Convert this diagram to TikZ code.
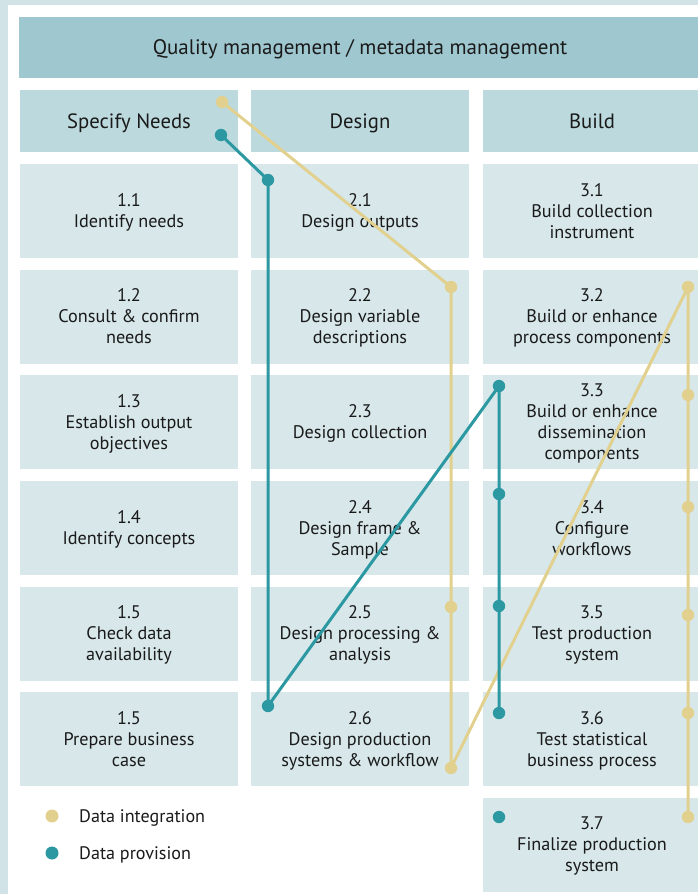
\documentclass[tikz,border=0pt]{standalone}
\usepackage{fontspec}
\setmainfont{PT Sans}
\definecolor{outerbg}{HTML}{D1E3E7}
\definecolor{headc}{HTML}{9FC7CF}
\definecolor{colhc}{HTML}{BCD9DD}
\definecolor{cellc}{HTML}{D7E7EA}
\definecolor{tealc}{HTML}{2B98A2}
\definecolor{yellc}{HTML}{E2D18E}
\definecolor{txt}{HTML}{1A1A1A}
\tikzset{
  cell/.style={fill=cellc, minimum width=218pt, minimum height=94pt, inner sep=0pt, align=center, text depth=0pt, text=txt, font=\fontsize{18.2}{21}\selectfont},
  colhead/.style={fill=colhc, minimum width=218pt, minimum height=62pt, inner sep=0pt, align=center, text depth=0pt, text=txt, font=\fontsize{20.7}{24}\selectfont},
  headbox/.style={fill=headc, minimum width=682pt, minimum height=61pt, inner sep=0pt, text depth=0pt, text=txt, font=\fontsize{21}{25}\selectfont},
  tline/.style={draw=tealc, line width=3pt, line join=round},
  yline/.style={draw=yellc, line width=3pt, line join=round},
  tdot/.style={fill=tealc},
  ydot/.style={fill=yellc},
  legtext/.style={anchor=west, inner sep=0pt, text depth=0pt, text=txt, font=\fontsize{18.1}{21}\selectfont}
}
\begin{document}
\begin{tikzpicture}[x=1pt,y=-1pt]
\useasboundingbox (0,0) rectangle (698,894);
\fill[outerbg] (0,0) rectangle (698,894);
\fill[white] (8,5) rectangle (698,894);

\node[headbox] (head) at (360,47.5) {Quality management / metadata management};

\node[colhead] (spec) at (129,121) {Specify Needs};
\node[colhead] (des) at (360,121) {Design};
\node[colhead] (bld) at (592,121) {Build};

\node[cell] (c11) at (129,211) {1.1\\Identify needs};
\node[cell] (c12) at (129,316.5) {1.2\\Consult \& confirm\\needs};
\node[cell] (c13) at (129,422) {1.3\\Establish output\\objectives};
\node[cell] (c14) at (129,528) {1.4\\Identify concepts};
\node[cell] (c15) at (129,633.5) {1.5\\Check data\\availability};
\node[cell] (c16) at (129,739) {1.5\\Prepare business\\case};

\node[cell] (c21) at (360,211) {2.1\\Design outputs};
\node[cell] (c22) at (360,316.5) {2.2\\Design variable\\descriptions};
\node[cell] (c23) at (360,422) {2.3\\Design collection};
\node[cell] (c24) at (360,528) {2.4\\Design frame \&\\Sample};
\node[cell] (c25) at (360,633.5) {2.5\\Design processing \&\\analysis};
\node[cell] (c26) at (360,739) {2.6\\Design production\\systems \& workflow};

\node[cell] (c31) at (592,211) {3.1\\Build collection\\instrument};
\node[cell] (c32) at (592,316.5) {3.2\\Build or enhance\\process components};
\node[cell] (c33) at (592,422) {3.3\\Build or enhance\\dissemination\\components};
\node[cell] (c34) at (592,528) {3.4\\Configure\\workflows};
\node[cell] (c35) at (592,633.5) {3.5\\Test production\\system};
\node[cell] (c36) at (592,739) {3.6\\Test statistical\\business process};
\node[cell] (c37) at (592,844.5) {3.7\\Finalize production\\system};

% dot coordinates
\coordinate (t0) at (221,135);
\coordinate (t1) at (268,180);
\coordinate (t2) at (268,706);
\coordinate (t3) at (499,386);
\coordinate (t4) at (499,494);
\coordinate (t5) at (499,606);
\coordinate (t6) at (499,713);
\coordinate (t7) at (499,817);

\coordinate (y0) at (222,102);
\coordinate (y1) at (451,287);
\coordinate (y2) at (451,607);
\coordinate (y3) at (451,768);
\coordinate (y4) at (688,287);
\coordinate (y5) at (688,395);
\coordinate (y6) at (688,507);
\coordinate (y7) at (688,615);
\coordinate (y8) at (688,713);
\coordinate (y9) at (688,817);

\draw[yline] (y0) -- (y1) -- (y2) -- (y3) -- (y4) -- (y5) -- (y6) -- (y7) -- (y8) -- (y9);
\draw[tline] (t0) -- (t1) -- (t2) -- (t3) -- (t4) -- (t5) -- (t6);

\foreach \p in {y0,y1,y2,y3,y4,y5,y6,y7,y8,y9} \fill[ydot] (\p) circle (6.2pt);
\foreach \p in {t0,t1,t2,t3,t4,t5,t6,t7} \fill[tdot] (\p) circle (6.2pt);

% legend
\coordinate (ld1) at (52,816);
\coordinate (ld2) at (52,853);
\fill[ydot] (ld1) circle (6.5pt);
\fill[tdot] (ld2) circle (6.5pt);
\node[legtext] (lt1) at (79,816) {Data integration};
\node[legtext] (lt2) at (79,853) {Data provision};
\end{tikzpicture}
\end{document}
